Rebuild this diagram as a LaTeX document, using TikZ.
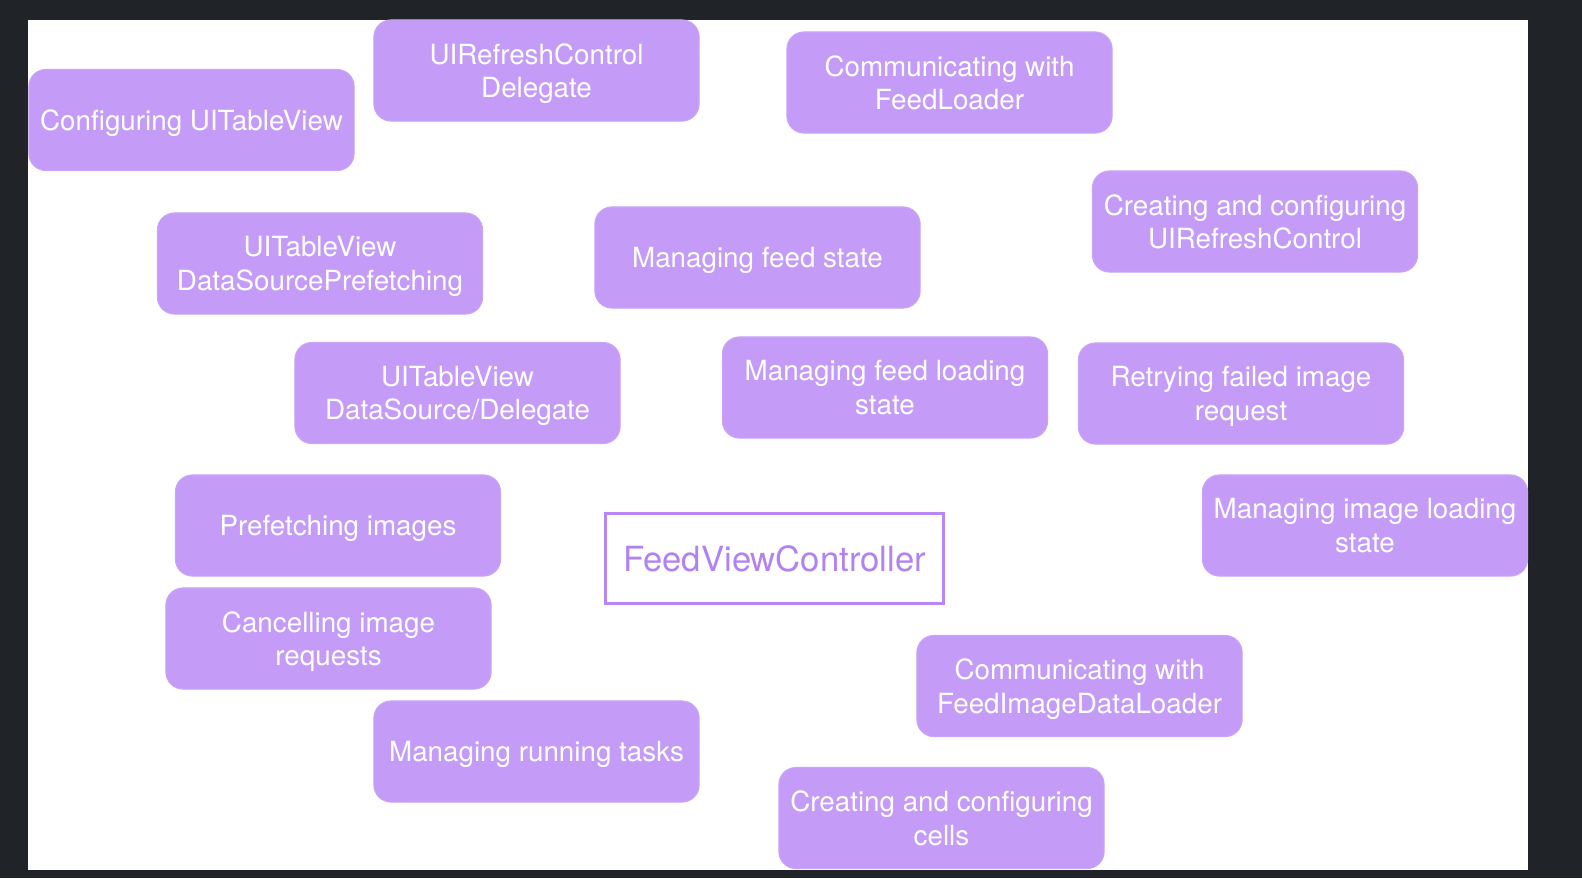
\documentclass[tikz,border=0pt]{standalone}
\usepackage{fontspec}
\setmainfont{TeX Gyre Heros}
\usepackage{xcolor}
\usetikzlibrary{positioning}
\definecolor{darkframe}{HTML}{202328}
\definecolor{lilac}{HTML}{C49BF7}
\definecolor{lilacedge}{HTML}{C9A4F8}
\definecolor{violetline}{HTML}{B886F5}
\definecolor{violettext}{HTML}{B183F2}

\begin{document}
\begin{tikzpicture}[x=0.01cm, y=-0.01cm,
    task/.style={fill=lilac, draw=lilacedge, line width=0.3pt, rounded corners=0.17cm,
        minimum width=3.25cm, minimum height=1.01cm, inner sep=0pt, align=center,
        text depth=0pt, text=white, font=\fontsize{7.9}{9.5}\selectfont},
    owner/.style={draw=violetline, line width=0.85pt, fill=white,
        minimum width=3.37cm, minimum height=0.89cm, inner sep=0pt,
        text=violettext, font=\fontsize{9.85}{11}\selectfont}]
        \fill[darkframe] (0,0) rectangle (1582,878);
        \fill[white] (28,20) rectangle (1528,870);
        \useasboundingbox (0,0) rectangle (1582,878);

        \node[task] (cfgtable) at (191.5,120) {Configuring UITableView};
        \node[task] (refreshdel) at (536.5,70.5) {UIRefreshControl\\Delegate};
        \node[task] (commloader) at (949.5,82.5) {Communicating with\\FeedLoader};
        \node[task] (mkrefresh) at (1255,221.5) {Creating and configuring\\UIRefreshControl};
        \node[task] (prefetchsrc) at (320,263.5) {UITableView\\DataSourcePrefetching};
        \node[task] (feedstate) at (757.5,257.5) {Managing feed state};
        \node[task] (datasrc) at (457.5,393) {UITableView\\DataSource/Delegate};
        \node[task] (feedloading) at (885,387.5) {Managing feed loading\\state};
        \node[task] (retrying) at (1241,393.5) {Retrying failed image\\request};
        \node[task] (prefetchimg) at (338,525.5) {Prefetching images};
        \node[task] (imgloading) at (1365,525.5) {Managing image loading\\state};
        \node[owner] (fvc) at (774.5,558.5) {FeedViewController};
        \node[task] (cancelling) at (328.5,638.5) {Cancelling image\\requests};
        \node[task] (commimage) at (1079.5,686) {Communicating with\\FeedImageDataLoader};
        \node[task] (running) at (536.5,751.5) {Managing running tasks};
        \node[task] (mkcells) at (941.5,818) {Creating and configuring\\cells};
    \end{tikzpicture}
\end{document}
